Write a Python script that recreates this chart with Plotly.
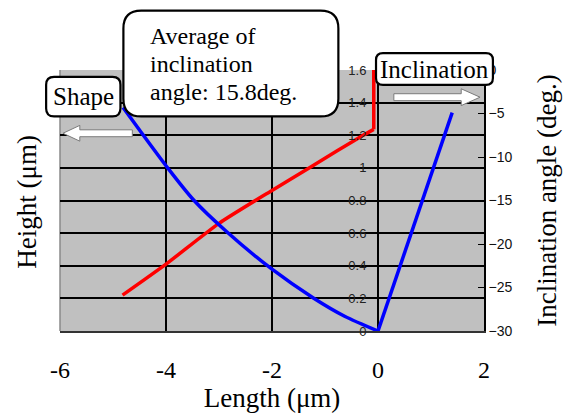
import plotly.graph_objects as go

# ---- data ----
shape_x = [-4.82, -4.0, -3.0, -2.0, -1.3, -0.77, -0.28, -0.08, -0.08]
shape_h = [0.22, 0.41, 0.66, 0.862, 1.0, 1.105, 1.2, 1.236, 1.6]

incl_x = [-4.81, -4.5, -4.0, -3.47, -2.87, -2.0, -1.22, -0.63, 0.0, 1.40]
incl_deg = [-4.3, -6.9, -11.0, -15.0, -18.5, -22.9, -26.2, -28.3, -30.0, -4.9]

x_ticks = [-6, -4, -2, 0, 2]
x_ticktext = ["-6", "-4", "-2", "0", "2"]
h_ticks = [0, 0.2, 0.4, 0.6, 0.8, 1, 1.2, 1.4, 1.6]
h_ticktext = ["0", "0.2", "0.4", "0.6", "0.8", "1", "1.2", "1.4", "1.6"]
a_ticks = [-30, -25, -20, -15, -10, -5, 0]
a_ticktext = ["\u221230", "\u221225", "\u221220", "\u221215", "\u221210", "\u22125", "0"]

# ---- layout geometry (pixels) ----
W, H = 569, 418
L, R, T, B = 60, 488, 70, 334
SERIF = "Liberation Serif, Times New Roman, serif"


def P(px, py):
    return ((px - L) / (R - L), (B - py) / (B - T))


def fmt(px, py):
    x, y = P(px, py)
    return f"{x:.5f},{y:.5f}"


def rrect(x0, y0, x1, y1, r):
    return (f"M {fmt(x0 + r, y0)} L {fmt(x1 - r, y0)} Q {fmt(x1, y0)} {fmt(x1, y0 + r)} "
            f"L {fmt(x1, y1 - r)} Q {fmt(x1, y1)} {fmt(x1 - r, y1)} "
            f"L {fmt(x0 + r, y1)} Q {fmt(x0, y1)} {fmt(x0, y1 - r)} "
            f"L {fmt(x0, y0 + r)} Q {fmt(x0, y0)} {fmt(x0 + r, y0)} Z")


def poly(pts):
    return "M " + " L ".join(fmt(a, b) for a, b in pts) + " Z"


fig = go.Figure()
# red: smooth sloped part + straight vertical part (split at the kink)
k = len(shape_x) - 2
fig.add_trace(go.Scatter(x=shape_x[:k + 1], y=shape_h[:k + 1], mode="lines",
                         line=dict(color="#ff0000", width=3.5, shape="spline", smoothing=0.6),
                         yaxis="y"))
fig.add_trace(go.Scatter(x=shape_x[k:], y=shape_h[k:], mode="lines",
                         line=dict(color="#ff0000", width=3.5), yaxis="y"))
# blue: smooth left branch + straight right branch (split at the minimum)
m = incl_deg.index(min(incl_deg))
fig.add_trace(go.Scatter(x=incl_x[:m + 1], y=incl_deg[:m + 1], mode="lines",
                         line=dict(color="#0000ff", width=3.5, shape="spline", smoothing=0.8),
                         yaxis="y2"))
fig.add_trace(go.Scatter(x=incl_x[m:], y=incl_deg[m:], mode="lines",
                         line=dict(color="#0000ff", width=3.5), yaxis="y2"))

shapes = []
shapes.append(dict(type="line", xref="paper", yref="paper", x0=0, x1=0, y0=0, y1=1,
                   line=dict(color="#8a8a8a", width=1.5), layer="below"))
shapes.append(dict(type="path", xref="paper", yref="paper", path=rrect(124, 10, 341, 117, 18),
                   fillcolor="white", line=dict(color="black", width=2.2), layer="above"))
shapes.append(dict(type="path", xref="paper", yref="paper", path=rrect(46, 77, 121, 117, 8),
                   fillcolor="white", line=dict(color="black", width=2.2), layer="above"))
shapes.append(dict(type="path", xref="paper", yref="paper", path=rrect(379, 53, 497, 85, 7),
                   fillcolor="white", line=dict(color="black", width=2.2), layer="above"))
shapes.append(dict(type="path", xref="paper", yref="paper",
                   path=poly([(63, 134), (80, 126), (80, 130.5), (133, 130.5), (133, 137.5),
                              (80, 137.5), (80, 142)]),
                   fillcolor="white", line=dict(color="#7a7a7a", width=1), layer="above"))
shapes.append(dict(type="path", xref="paper", yref="paper",
                   path=poly([(484, 97.5), (465, 89), (465, 94), (397, 94), (397, 101),
                              (465, 101), (465, 106)]),
                   fillcolor="white", line=dict(color="#7a7a7a", width=1), layer="above"))

annotations = []


def ann(text, px, py, size, xanchor="center", yanchor="middle", angle=0):
    x, y = P(px, py)
    annotations.append(dict(text=text, x=x, y=y, xref="paper", yref="paper", showarrow=False,
                            xanchor=xanchor, yanchor=yanchor, textangle=angle,
                            font=dict(family=SERIF, size=size, color="black")))


ann("Average of", 149, 36, 24, xanchor="left")
ann("inclination", 149, 64, 24, xanchor="left")
ann("angle: 15.8deg.", 149, 92, 24, xanchor="left")
ann("Shape", 84, 97, 25)
ann("Inclination", 438, 69, 25)
ann("Height (\u03bcm)", 27, 203, 27, angle=-90)

GRID = dict(showgrid=True, gridcolor="#000000", gridwidth=1.5, ticks="")

fig.update_layout(
    width=W, height=H,
    margin=dict(l=L, r=W - R, t=T, b=H - B, pad=0),
    paper_bgcolor="white", plot_bgcolor="#c0c0c0",
    showlegend=False,
    shapes=shapes, annotations=annotations,
    xaxis=dict(range=[-6, 2], tickvals=x_ticks, ticktext=x_ticktext,
               showgrid=False, zeroline=False,
               minor=dict(tickvals=[-4, -2, 0], **GRID),
               showline=True, linecolor="#333333", linewidth=2,
               ticks="outside", ticklen=16, tickcolor="rgba(0,0,0,0)",
               tickfont=dict(family=SERIF, size=24, color="black"),
               title=dict(text="Length (\u03bcm)", font=dict(family=SERIF, size=27, color="black"),
                          standoff=4)),
    yaxis=dict(range=[0, 1.6], tickvals=h_ticks, ticktext=h_ticktext,
               anchor="free", position=0.75, showline=False,
               showgrid=False, zeroline=False,
               minor=dict(tickvals=[0.2, 0.4, 0.6, 0.8, 1.0, 1.2, 1.4], **GRID),
               ticks="outside", ticklen=9, tickcolor="rgba(0,0,0,0)",
               tickfont=dict(family="Liberation Sans, Arial, sans-serif", size=13, color="#222222")),
    yaxis2=dict(range=[-30, 0], tickvals=a_ticks, ticktext=a_ticktext,
                overlaying="y", side="right", anchor="x",
                showgrid=False, zeroline=False,
                showline=True, linecolor="black", linewidth=1.5,
                ticks="inside", ticklen=6, tickcolor="black", tickwidth=1,
                tickfont=dict(family="Liberation Sans, Arial, sans-serif", size=14, color="#111111"),
                title=dict(text="Inclination angle (deg.)",
                           font=dict(family=SERIF, size=27, color="black"), standoff=26)),
)

fig.write_html("out.html")
